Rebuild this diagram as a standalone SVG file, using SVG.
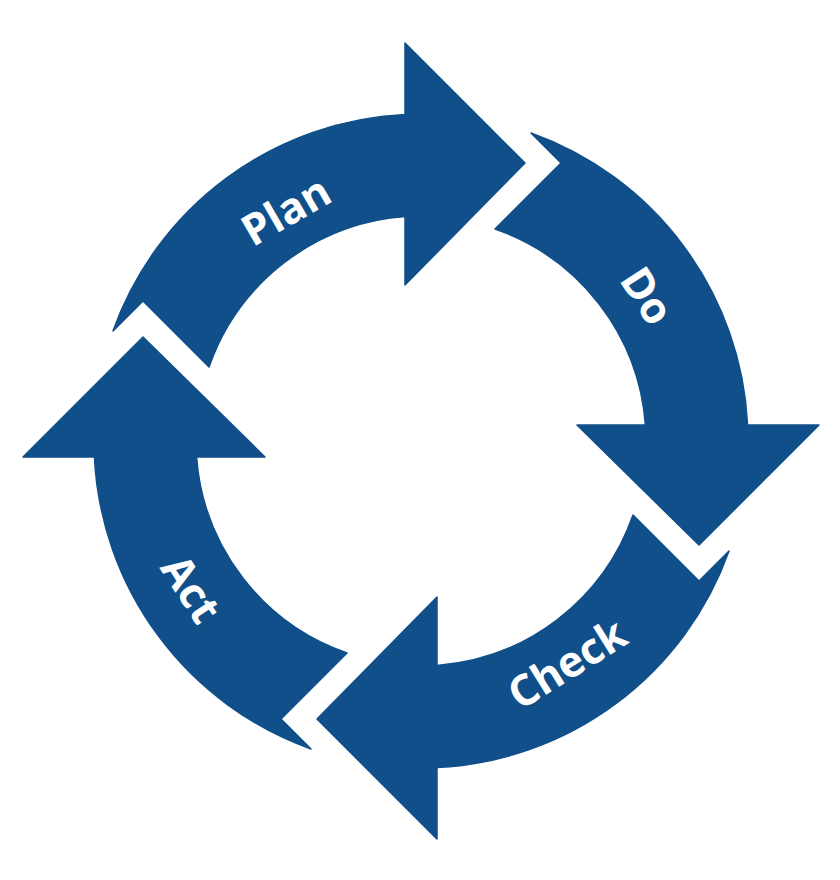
<svg xmlns="http://www.w3.org/2000/svg" width="840" height="880" viewBox="0 0 840 880">
  <style>
    .arrow { fill: #104f8a; stroke: #104f8a; stroke-width: 1.5; stroke-linejoin: round; }
    .label { fill: #ffffff; font-family: "Open Sans", "Liberation Sans", sans-serif; font-weight: 700; font-size: 43px; text-anchor: middle; }
  </style>
  <defs>
    <path id="arc-arrow" d="M -308,-110 A 327 327 0 0 1 -16,-326.6 L -16,-398 L 104,-278 L -16,-156 L -16,-224.4 A 225 225 0 0 0 -212,-74 L -278,-140 Z"/>
  </defs>
  <rect width="840" height="880" fill="#ffffff"/>
  <g id="plan">
    <use href="#arc-arrow" class="arrow" transform="translate(421,441)"/>
    <text class="label" transform="translate(286,211) rotate(-30)" y="15">Plan</text>
  </g>
  <g id="do">
    <use href="#arc-arrow" class="arrow" transform="translate(421,441) rotate(90)"/>
    <text class="label" transform="translate(647,296) rotate(57)" y="15">Do</text>
  </g>
  <g id="check">
    <use href="#arc-arrow" class="arrow" transform="translate(421,441) rotate(180)"/>
    <text class="label" transform="translate(567,664) rotate(-32)" y="15">Check</text>
  </g>
  <g id="act">
    <use href="#arc-arrow" class="arrow" transform="translate(421,441) rotate(270)"/>
    <text class="label" transform="translate(191,589) rotate(57)" y="15">Act</text>
  </g>
  <g id="connectors"/>
</svg>
